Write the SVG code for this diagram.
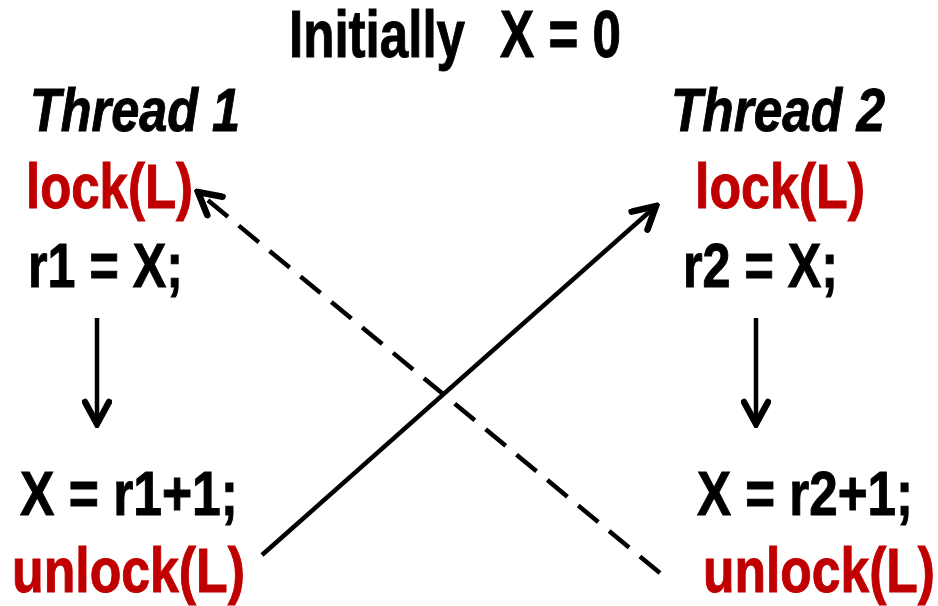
<svg xmlns="http://www.w3.org/2000/svg" width="938" height="606" viewBox="0 0 938 606">
<style>
text{font-family:"Liberation Sans",Arial,sans-serif;font-weight:bold;stroke-width:1;}
.k{fill:#000;stroke:#000;font-size:63px;}
.r{fill:#C00000;stroke:#C00000;font-size:63px;}
.h{fill:#000;stroke:#000;font-size:61px;font-style:italic;}
.t{fill:#000;stroke:#000;font-size:66px;}
.ln{stroke:#000;stroke-width:4.5;fill:none;}
.ds{stroke-dasharray:26 14;}
</style>
<defs>
<marker id="ah" markerUnits="userSpaceOnUse" viewBox="-30 -15 34 30" markerWidth="34" markerHeight="30" refX="0" refY="0" orient="auto">
<path d="M-22,-12 L0,0 L-22,12" fill="none" stroke="#000" stroke-width="6.5" stroke-linecap="round" stroke-linejoin="miter"/>
</marker>
</defs>
<g id="title">
<text class="t" x="289" y="57" textLength="176" lengthAdjust="spacingAndGlyphs">Initially</text>
<text class="t" x="500" y="57" textLength="121" lengthAdjust="spacingAndGlyphs">X = 0</text>
</g>
<g id="thread1">
<text class="h" x="30" y="131" textLength="210" lengthAdjust="spacingAndGlyphs">Thread 1</text>
<text class="r" x="26" y="208" textLength="167" lengthAdjust="spacingAndGlyphs">lock(L)</text>
<text class="k" x="28" y="287" textLength="155" lengthAdjust="spacingAndGlyphs">r1 = X;</text>
<text class="k" x="20" y="515" textLength="218" lengthAdjust="spacingAndGlyphs">X = r1+1;</text>
<text class="r" x="12" y="592" textLength="233" lengthAdjust="spacingAndGlyphs">unlock(L)</text>
</g>
<g id="thread2">
<text class="h" x="671" y="131" textLength="214" lengthAdjust="spacingAndGlyphs">Thread 2</text>
<text class="r" x="695" y="208" textLength="170" lengthAdjust="spacingAndGlyphs">lock(L)</text>
<text class="k" x="683" y="287" textLength="155" lengthAdjust="spacingAndGlyphs">r2 = X;</text>
<text class="k" x="697" y="515" textLength="216" lengthAdjust="spacingAndGlyphs">X = r2+1;</text>
<text class="r" x="703" y="592" textLength="232" lengthAdjust="spacingAndGlyphs">unlock(L)</text>
</g>
<g id="connectors">
<line class="ln" x1="97" y1="318" x2="97" y2="424" marker-end="url(#ah)"/>
<line class="ln" x1="756" y1="318" x2="756" y2="424" marker-end="url(#ah)"/>
<line class="ln" x1="262" y1="555" x2="656" y2="206" marker-end="url(#ah)"/>
<line class="ln ds" x1="660" y1="573" x2="198" y2="192" marker-end="url(#ah)"/>
</g>
</svg>
